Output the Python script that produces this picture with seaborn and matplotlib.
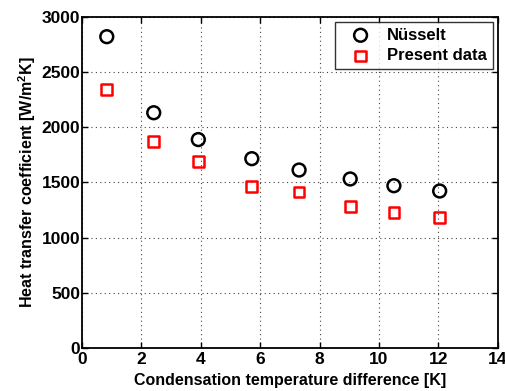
import matplotlib
matplotlib.use("Agg")
import matplotlib.pyplot as plt
import seaborn as sns
import pandas as pd

dT = [0.84, 2.42, 3.92, 5.72, 7.31, 9.03, 10.50, 12.04]
nusselt = [2820, 2131, 1888, 1715, 1612, 1531, 1470, 1422]
present = [2343, 1870, 1688, 1461, 1413, 1282, 1225, 1185]
xticks = [0, 2, 4, 6, 8, 10, 12, 14]
yticks = [0, 500, 1000, 1500, 2000, 2500, 3000]

sns.set_style("ticks")
plt.rcParams['font.family'] = ['Liberation Sans', 'DejaVu Sans']
plt.rcParams['font.weight'] = 'bold'
plt.rcParams['axes.labelweight'] = 'bold'
plt.rcParams['text.color'] = 'black'
plt.rcParams['axes.labelcolor'] = 'black'
plt.rcParams['xtick.color'] = 'black'
plt.rcParams['ytick.color'] = 'black'
plt.rcParams['mathtext.fontset'] = 'custom'
plt.rcParams['mathtext.bf'] = 'Liberation Sans:bold'
plt.rcParams['mathtext.rm'] = 'Liberation Sans:bold'
plt.rcParams['mathtext.default'] = 'bf'

fig = plt.figure(figsize=(5.05, 3.91), dpi=100)
ax = fig.add_axes([0.162, 0.110, 0.824, 0.847])

df_n = pd.DataFrame({"x": dT, "y": nusselt})
df_p = pd.DataFrame({"x": dT, "y": present})
sns.scatterplot(data=df_n, x="x", y="y", ax=ax, marker="o", s=85,
                facecolor="none", edgecolor="black", linewidth=1.8, label="Nüsselt", zorder=3)
sns.scatterplot(data=df_p, x="x", y="y", ax=ax, marker="s", s=60,
                facecolor="none", edgecolor="red", linewidth=1.8, label="Present data", zorder=3)

ax.set_xlim(0, 14)
ax.set_ylim(0, 3000)
ax.set_xticks(xticks)
ax.set_yticks(yticks)
ax.set_xticklabels([str(v) for v in xticks], fontsize=12.5, fontweight="bold",
                   family="Liberation Sans", color="black")
ax.set_yticklabels([str(v) for v in yticks], fontsize=12.5, fontweight="bold",
                   family="Liberation Sans", color="black")
ax.tick_params(direction="in", top=True, right=True, width=1.0, length=4, colors="black")
ax.tick_params(axis="x", pad=3)
ax.tick_params(axis="y", pad=1)
ax.grid(True, linestyle=(0, (1, 3)), color="#444444", linewidth=0.8)
for sp in ax.spines.values():
    sp.set_linewidth(1.3)
    sp.set_color("black")

ax.set_xlabel("Condensation temperature difference [K]", fontsize=11.5, color="black",
              fontweight="bold", family="Liberation Sans", labelpad=4)
ax.set_ylabel("Heat transfer coefficient [W/m$^{2}$K]", fontsize=11.5, color="black",
              fontweight="bold", family="Liberation Sans", labelpad=3)

leg = ax.legend(loc="upper right", frameon=True, fancybox=False,
                prop={"family": "Liberation Sans", "weight": "bold", "size": 12},
                borderaxespad=0.3, handletextpad=0.4, borderpad=0.35,
                labelspacing=0.35, handlelength=2.4)
leg.get_frame().set_edgecolor("black")
leg.get_frame().set_linewidth(1.0)
for t in leg.get_texts():
    t.set_color("black")

fig.savefig("out.png", dpi=100)
